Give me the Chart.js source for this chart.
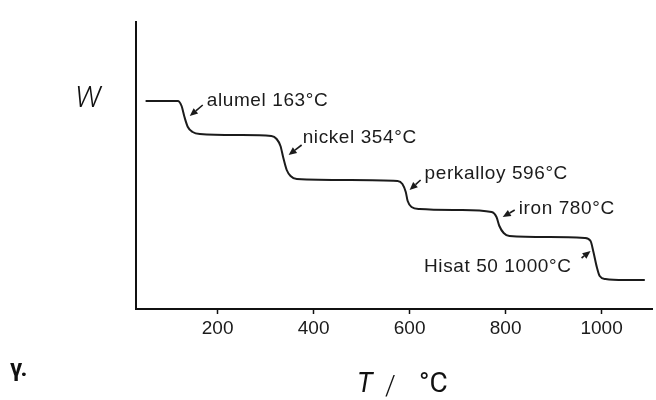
<!DOCTYPE html>
<html>
<head>
<meta charset="utf-8">
<script src="https://cdn.jsdelivr.net/npm/chart.js@4/dist/chart.umd.min.js"></script>
<style>
  html, body { margin: 0; padding: 0; background: #ffffff; }
  #wrap { width: 656px; height: 400px; }
</style>
</head>
<body>
<div id="wrap"><canvas id="c" width="656" height="400"></canvas></div>
<script>
// Thermogravimetric trace of a magnetic standard: apparent weight vs temperature
const temperature = [50, 117, 125, 131, 138, 148, 163, 246, 312, 323, 331, 337, 344, 352, 365,
                     475, 575, 585, 592, 596, 604, 621, 704, 771, 781, 787, 796, 808,
                     892, 965, 977, 983, 990, 996, 1008, 1048, 1090];
const weight      = [208, 208, 203, 192, 182, 177, 175, 174, 173, 170, 163, 151, 139, 133, 130,
                     129, 128, 125, 117, 108, 102, 100, 99, 97, 92, 83, 76, 73,
                     72, 71, 68, 57, 42, 33, 30, 29, 29];

const xTicks = [200, 400, 600, 800, 1000];

// Curie-point markers: text and the point on the trace each arrow points at
const markerLabels = ['alumel 163°C', 'nickel 354°C', 'perkalloy 596°C', 'iron 780°C', 'Hisat 50 1000°C'];
const markerT = [142, 348, 600, 794, 977];
const markerW = [193, 154, 119, 92, 58];

// Pixel offsets of arrow tails and label anchors relative to the arrow tip
const markerLayout = [
  { tail: [13, -11], text: [17, -15], align: 'left' },
  { tail: [13, -10], text: [14, -17], align: 'left' },
  { tail: [11, -10], text: [15, -16], align: 'left' },
  { tail: [12, -7],  text: [16, -8],  align: 'left' },
  { tail: [-9, 7],   text: [-19, 16], align: 'right' }
];

const INK = '#1b1b1b';
const LABEL_FONT = '19px "Liberation Sans", Arial, sans-serif';

function arrow(ctx, x0, y0, x1, y1) {
  const ang = Math.atan2(y1 - y0, x1 - x0);
  const head = 8, half = 3.5;
  const bx = x1 - head * Math.cos(ang), by = y1 - head * Math.sin(ang);
  ctx.beginPath();
  ctx.moveTo(x0, y0);
  ctx.lineTo(bx, by);
  ctx.lineWidth = 1.6;
  ctx.strokeStyle = INK;
  ctx.stroke();
  ctx.beginPath();
  ctx.moveTo(x1, y1);
  ctx.lineTo(bx + half * Math.sin(ang), by - half * Math.cos(ang));
  ctx.lineTo(bx - half * Math.sin(ang), by + half * Math.cos(ang));
  ctx.closePath();
  ctx.fillStyle = INK;
  ctx.fill();
}

const markersPlugin = {
  id: 'markers',
  afterDatasetsDraw(chart) {
    const ctx = chart.ctx;
    const xs = chart.scales.x, ys = chart.scales.y;
    ctx.save();
    ctx.font = LABEL_FONT;
    ctx.letterSpacing = '0.6px';
    ctx.textBaseline = 'middle';
    markerLabels.forEach((label, i) => {
      const px = xs.getPixelForValue(markerT[i]);
      const py = ys.getPixelForValue(markerW[i]);
      const lay = markerLayout[i];
      arrow(ctx, px + lay.tail[0], py + lay.tail[1], px, py);
      ctx.fillStyle = INK;
      ctx.textAlign = lay.align;
      ctx.fillText(label, px + lay.text[0], py + lay.text[1]);
    });
    ctx.restore();
  }
};

const titlesPlugin = {
  id: 'titles',
  afterDraw(chart) {
    const ctx = chart.ctx;
    ctx.save();
    ctx.fillStyle = '#111';
    ctx.textBaseline = 'middle';
    // y-axis symbol
    ctx.textAlign = 'center';
    ctx.font = 'italic 300 30px Roboto, sans-serif';
    ctx.fillText('W', 88, 99);
    // x-axis title
    ctx.textAlign = 'left';
    ctx.font = 'italic 27px Roboto, sans-serif';
    ctx.fillText('T', 357, 385);
    ctx.font = '300 27px Roboto, sans-serif';
    ctx.fillText('/', 385, 388);
    ctx.font = '28px Roboto, sans-serif';
    ctx.fillText('°C', 419, 385);
    // panel tag
    ctx.font = 'bold 24px Roboto, sans-serif';
    ctx.fillText('γ.', 10, 370);
    ctx.restore();
  }
};

new Chart(document.getElementById('c'), {
  type: 'scatter',
  data: {
    datasets: [{
      data: temperature.map((t, i) => ({ x: t, y: weight[i] })),
      showLine: true,
      borderColor: INK,
      borderWidth: 2,
      pointRadius: 0,
      fill: false,
      tension: 0.4,
      cubicInterpolationMode: 'monotone'
    }]
  },
  options: {
    responsive: false,
    animation: false,
    devicePixelRatio: 1,
    layout: { padding: { top: 22, right: 4, left: 0, bottom: 0 } },
    plugins: { legend: { display: false }, tooltip: { enabled: false } },
    scales: {
      x: {
        type: 'linear',
        min: 30,
        max: 1105,
        afterBuildTicks: (scale) => { scale.ticks = xTicks.map(v => ({ value: v })); },
        afterFit: (scale) => { scale.height = 91; },
        border: { display: true, color: '#111', width: 2 },
        grid: { display: true, drawOnChartArea: false, drawTicks: true, tickLength: 5, tickColor: '#111', tickWidth: 1.5 },
        ticks: {
          color: '#1b1b1b',
          padding: 3,
          maxRotation: 0,
          callback: (v) => String(v),
          font: { family: '"Liberation Sans", Arial, sans-serif', size: 19 }
        }
      },
      y: {
        type: 'linear',
        min: 0,
        max: 287,
        afterFit: (scale) => { scale.width = 136; },
        border: { display: true, color: '#111', width: 2 },
        grid: { display: false },
        ticks: { display: false }
      }
    }
  },
  plugins: [markersPlugin, titlesPlugin]
});
</script>
</body>
</html>
